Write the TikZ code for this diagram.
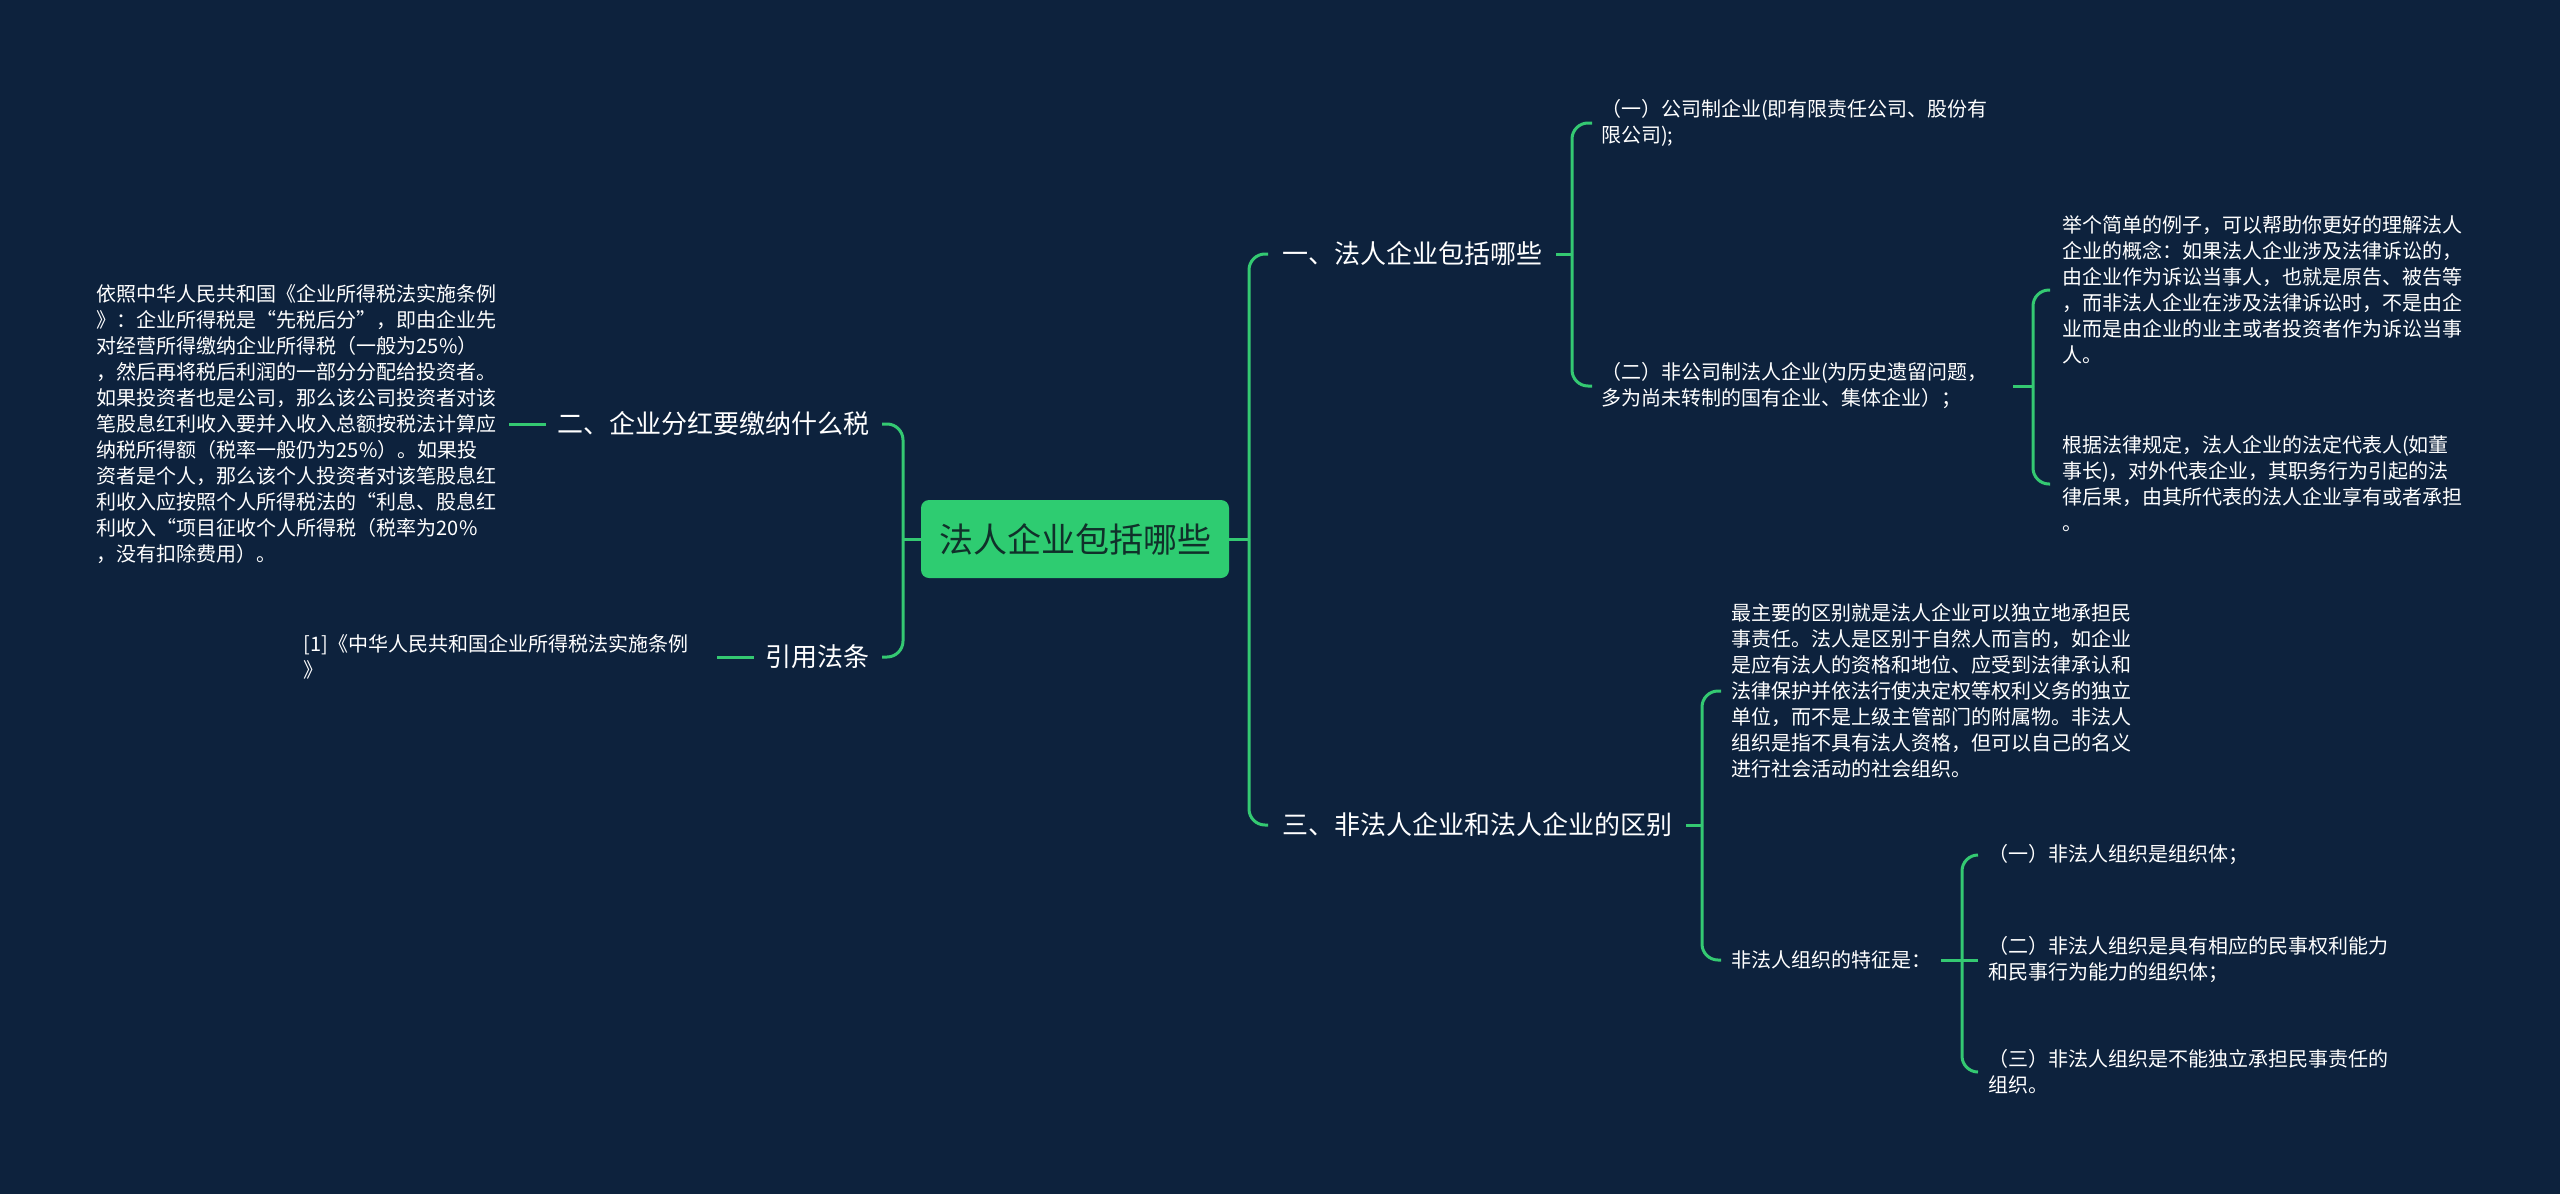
\documentclass[tikz,border=0pt]{standalone}
\usepackage{fontspec}
\setmainfont{Noto Sans CJK SC}
\definecolor{bg}{RGB}{13,34,61}
\definecolor{ln}{RGB}{52,201,114}
\definecolor{cfill}{RGB}{46,204,113}
\definecolor{ctext}{RGB}{16,48,42}
\begin{document}
\begin{tikzpicture}[x=1pt,y=-1pt,
  body/.style={text=white, font=\fontsize{20}{26}\selectfont, align=left, inner ysep=2pt},
  lvl/.style={text=white, font=\fontsize{26}{32}\selectfont, inner ysep=2pt},
  link/.style={draw=ln, line width=3pt, rounded corners=16pt}
]
\useasboundingbox (0,0) rectangle (2560,1194);
\fill[bg] (0,0) rectangle (2560,1194);

% root
\node[fill=cfill, rounded corners=8pt, minimum width=308pt, minimum height=78pt,
      text=ctext, font=\fontsize{34}{40}\selectfont, inner sep=0pt] (root) at (1075,539) {法人企业包括哪些};

% left side
\node[lvl, anchor=east, inner xsep=12pt] (n2) at (882,424) {二、企业分红要缴纳什么税};
\node[body, anchor=east, inner xsep=0pt, text width=412pt] (lt) at (509,424) {依照中华人民共和国《企业所得税法实施条例\\》：企业所得税是“先税后分”，即由企业先\\对经营所得缴纳企业所得税（一般为25\%）\\，然后再将税后利润的一部分分配给投资者。\\如果投资者也是公司，那么该公司投资者对该\\笔股息红利收入要并入收入总额按税法计算应\\纳税所得额（税率一般仍为25\%）。如果投\\资者是个人，那么该个人投资者对该笔股息红\\利收入应按照个人所得税法的“利息、股息红\\利收入“项目征收个人所得税（税率为20\%\\，没有扣除费用）。};
\node[lvl, anchor=east, inner xsep=12pt] (ref) at (882,657) {引用法条};
\node[body, anchor=east, inner xsep=0pt, text width=413pt] (ref1) at (717,657) {[1]《中华人民共和国企业所得税法实施条例\\》};

% right side level 1
\node[lvl, anchor=west, inner xsep=14pt] (n1) at (1268,254) {一、法人企业包括哪些};
\node[lvl, anchor=west, inner xsep=14pt] (n3) at (1268,825) {三、非法人企业和法人企业的区别};

% children of n1
\node[body, anchor=west, inner xsep=9pt] (a1) at (1592,123) {（一）公司制企业(即有限责任公司、股份有\\限公司);};
\node[body, anchor=west, inner xsep=9pt, text width=403pt] (a2) at (1592,386) {（二）非公司制法人企业(为历史遗留问题，\\多为尚未转制的国有企业、集体企业）；};
\node[body, anchor=west, inner xsep=12pt] (e1) at (2050,290) {举个简单的例子，可以帮助你更好的理解法人\\企业的概念：如果法人企业涉及法律诉讼的，\\由企业作为诉讼当事人，也就是原告、被告等\\，而非法人企业在涉及法律诉讼时，不是由企\\业而是由企业的业主或者投资者作为诉讼当事\\人。};
\node[body, anchor=west, inner xsep=12pt] (e2) at (2050,484) {根据法律规定，法人企业的法定代表人(如董\\事长)，对外代表企业，其职务行为引起的法\\律后果，由其所代表的法人企业享有或者承担\\。};

% children of n3
\node[body, anchor=west, inner xsep=10pt] (d1) at (1721,691) {最主要的区别就是法人企业可以独立地承担民\\事责任。法人是区别于自然人而言的，如企业\\是应有法人的资格和地位、应受到法律承认和\\法律保护并依法行使决定权等权利义务的独立\\单位，而不是上级主管部门的附属物。非法人\\组织是指不具有法人资格，但可以自己的名义\\进行社会活动的社会组织。};
\node[body, anchor=west, inner xsep=10pt] (d2) at (1721,960) {非法人组织的特征是：};
\node[body, anchor=west, inner xsep=10pt] (f1) at (1978,855) {（一）非法人组织是组织体；};
\node[body, anchor=west, inner xsep=10pt] (f2) at (1978,960) {（二）非法人组织是具有相应的民事权利能力\\和民事行为能力的组织体；};
\node[body, anchor=west, inner xsep=10pt] (f3) at (1978,1072) {（三）非法人组织是不能独立承担民事责任的\\组织。};

% bus coordinates
\coordinate (bL) at (903,539);
\coordinate (bR) at (1249,539);
\coordinate (b1) at (1572,254);
\coordinate (b2) at (2033,386);
\coordinate (b3) at (1702,825);
\coordinate (b4) at (1962,960);

% connectors
\draw[link] (root.west) -- (bL);
\draw[link] (bL) |- (n2.east);
\draw[link] (bL) |- (ref.east);
\draw[link] (n2.west) -- (lt.east);
\draw[link] (ref.west) -- (ref1.east);

\draw[link] (root.east) -- (bR);
\draw[link] (bR) |- (n1.west);
\draw[link] (bR) |- (n3.west);

\draw[link] (n1.east) -- (b1);
\draw[link] (b1) |- (a1.west);
\draw[link] (b1) |- (a2.west);

\draw[link] (a2.east) -- (b2);
\draw[link] (b2) |- (e1.west);
\draw[link] (b2) |- (e2.west);

\draw[link] (n3.east) -- (b3);
\draw[link] (b3) |- (d1.west);
\draw[link] (b3) |- (d2.west);

\draw[link] (d2.east) -- (b4);
\draw[link] (b4) |- (f1.west);
\draw[link] (b4) -- (f2.west);
\draw[link] (b4) |- (f3.west);
\end{tikzpicture}
\end{document}
